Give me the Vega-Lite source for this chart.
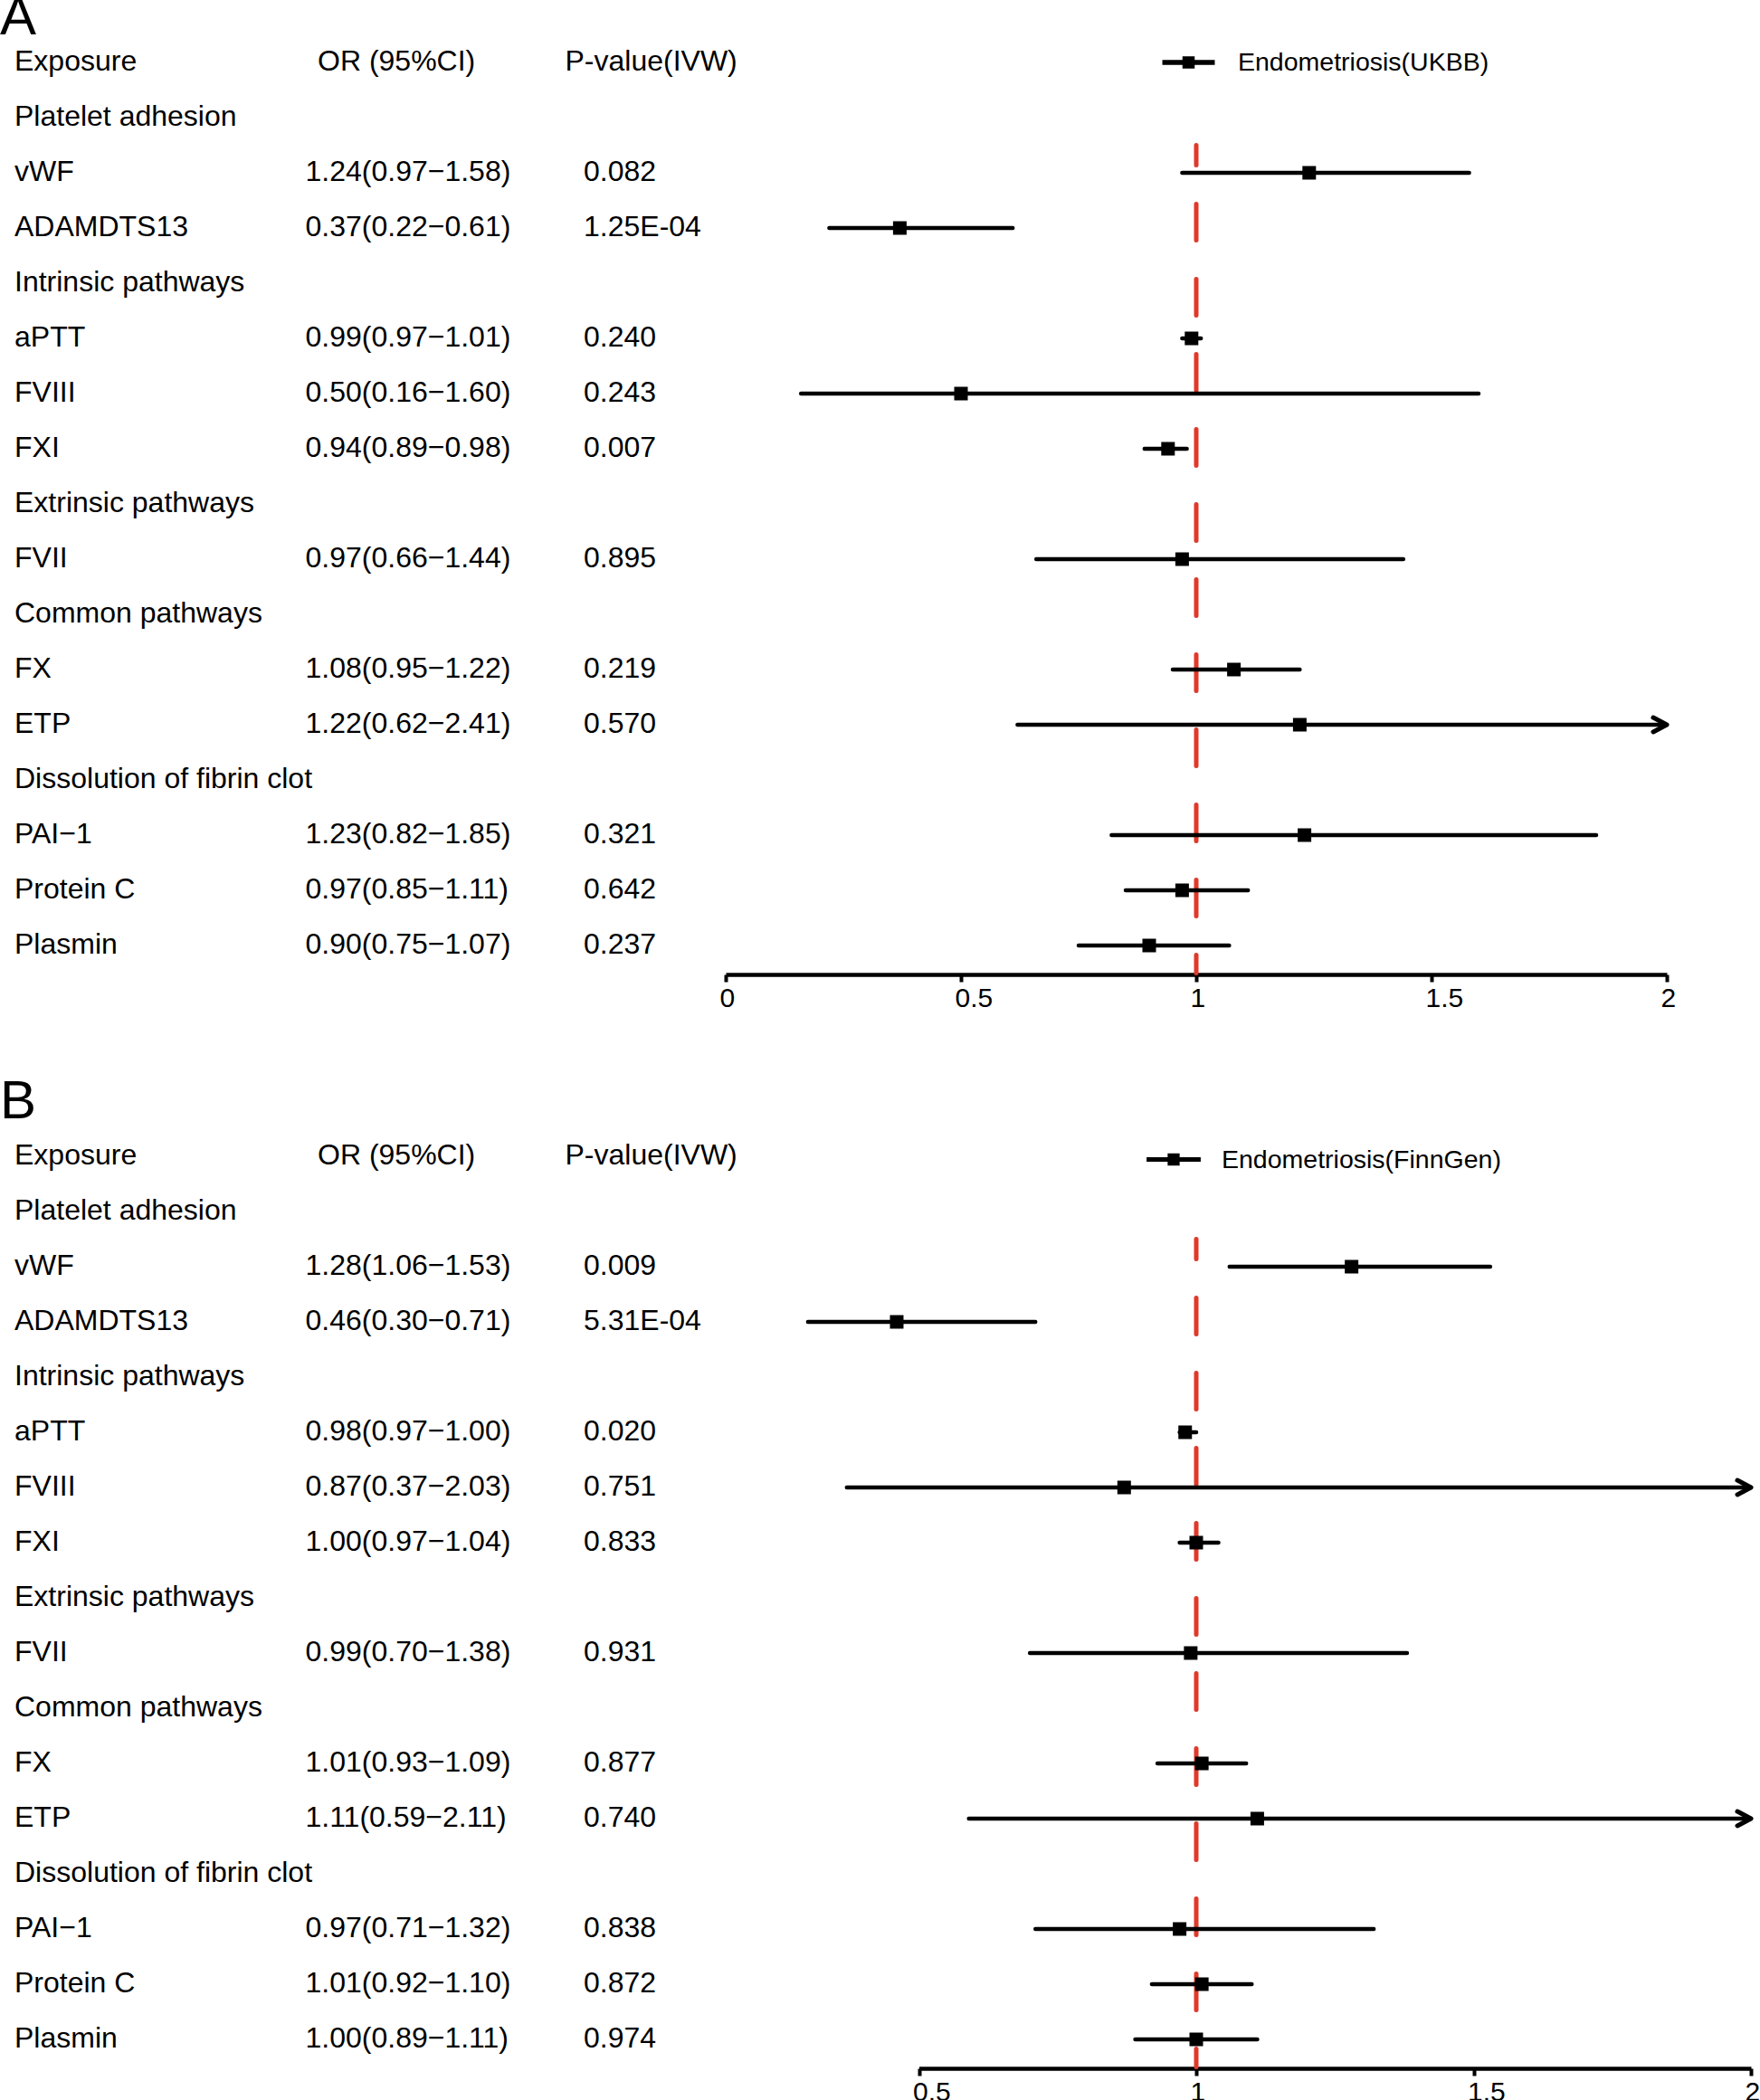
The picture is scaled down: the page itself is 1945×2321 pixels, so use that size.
{
  "$schema": "https://vega.github.io/schema/vega-lite/v6.json",
  "padding": 0,
  "background": "white",
  "config": {"view": {"stroke": null}, "font": "Liberation Sans", "text": {"color": "black"}},
  "datasets": {
    "A": [
      {"label": "Exposure", "ci": "OR (95%CI)", "p": "P-value(IVW)", "kind": "header"},
      {"label": "Platelet adhesion", "kind": "section"},
      {"label": "vWF", "ci": "1.24(0.97−1.58)", "p": "0.082", "kind": "item", "or": 1.24, "lo": 0.97, "hi": 1.58},
      {"label": "ADAMDTS13", "ci": "0.37(0.22−0.61)", "p": "1.25E-04", "kind": "item", "or": 0.37, "lo": 0.22, "hi": 0.61},
      {"label": "Intrinsic pathways", "kind": "section"},
      {"label": "aPTT", "ci": "0.99(0.97−1.01)", "p": "0.240", "kind": "item", "or": 0.99, "lo": 0.97, "hi": 1.01},
      {"label": "FVIII", "ci": "0.50(0.16−1.60)", "p": "0.243", "kind": "item", "or": 0.50, "lo": 0.16, "hi": 1.60},
      {"label": "FXI", "ci": "0.94(0.89−0.98)", "p": "0.007", "kind": "item", "or": 0.94, "lo": 0.89, "hi": 0.98},
      {"label": "Extrinsic pathways", "kind": "section"},
      {"label": "FVII", "ci": "0.97(0.66−1.44)", "p": "0.895", "kind": "item", "or": 0.97, "lo": 0.66, "hi": 1.44},
      {"label": "Common pathways", "kind": "section"},
      {"label": "FX", "ci": "1.08(0.95−1.22)", "p": "0.219", "kind": "item", "or": 1.08, "lo": 0.95, "hi": 1.22},
      {"label": "ETP", "ci": "1.22(0.62−2.41)", "p": "0.570", "kind": "item", "or": 1.22, "lo": 0.62, "hi": 2.41},
      {"label": "Dissolution of fibrin clot", "kind": "section"},
      {"label": "PAI−1", "ci": "1.23(0.82−1.85)", "p": "0.321", "kind": "item", "or": 1.23, "lo": 0.82, "hi": 1.85},
      {"label": "Protein C", "ci": "0.97(0.85−1.11)", "p": "0.642", "kind": "item", "or": 0.97, "lo": 0.85, "hi": 1.11},
      {"label": "Plasmin", "ci": "0.90(0.75−1.07)", "p": "0.237", "kind": "item", "or": 0.90, "lo": 0.75, "hi": 1.07}
    ],
    "B": [
      {"label": "Exposure", "ci": "OR (95%CI)", "p": "P-value(IVW)", "kind": "header"},
      {"label": "Platelet adhesion", "kind": "section"},
      {"label": "vWF", "ci": "1.28(1.06−1.53)", "p": "0.009", "kind": "item", "or": 1.28, "lo": 1.06, "hi": 1.53},
      {"label": "ADAMDTS13", "ci": "0.46(0.30−0.71)", "p": "5.31E-04", "kind": "item", "or": 0.46, "lo": 0.30, "hi": 0.71},
      {"label": "Intrinsic pathways", "kind": "section"},
      {"label": "aPTT", "ci": "0.98(0.97−1.00)", "p": "0.020", "kind": "item", "or": 0.98, "lo": 0.97, "hi": 1.00},
      {"label": "FVIII", "ci": "0.87(0.37−2.03)", "p": "0.751", "kind": "item", "or": 0.87, "lo": 0.37, "hi": 2.03},
      {"label": "FXI", "ci": "1.00(0.97−1.04)", "p": "0.833", "kind": "item", "or": 1.00, "lo": 0.97, "hi": 1.04},
      {"label": "Extrinsic pathways", "kind": "section"},
      {"label": "FVII", "ci": "0.99(0.70−1.38)", "p": "0.931", "kind": "item", "or": 0.99, "lo": 0.70, "hi": 1.38},
      {"label": "Common pathways", "kind": "section"},
      {"label": "FX", "ci": "1.01(0.93−1.09)", "p": "0.877", "kind": "item", "or": 1.01, "lo": 0.93, "hi": 1.09},
      {"label": "ETP", "ci": "1.11(0.59−2.11)", "p": "0.740", "kind": "item", "or": 1.11, "lo": 0.59, "hi": 2.11},
      {"label": "Dissolution of fibrin clot", "kind": "section"},
      {"label": "PAI−1", "ci": "0.97(0.71−1.32)", "p": "0.838", "kind": "item", "or": 0.97, "lo": 0.71, "hi": 1.32},
      {"label": "Protein C", "ci": "1.01(0.92−1.10)", "p": "0.872", "kind": "item", "or": 1.01, "lo": 0.92, "hi": 1.10},
      {"label": "Plasmin", "ci": "1.00(0.89−1.11)", "p": "0.974", "kind": "item", "or": 1.00, "lo": 0.89, "hi": 1.11}
    ]
  },
  "spacing": 132,
  "bounds": "flush",
  "resolve": {"scale": {"x": "independent", "y": "independent", "color": "independent"}, "legend": {"color": "independent"}},
  "vconcat": [
    {
      "width": 1945, "height": 1077,
      "data": {"name": "A"},
      "encoding": {"y": {"field": "label", "type": "nominal", "axis": null, "scale": {"type": "band", "domain": ["Exposure", "Platelet adhesion", "vWF", "ADAMDTS13", "Intrinsic pathways", "aPTT", "FVIII", "FXI", "Extrinsic pathways", "FVII", "Common pathways", "FX", "ETP", "Dissolution of fibrin clot", "PAI−1", "Protein C", "Plasmin"], "range": [38.5, 1075.5], "paddingInner": 0, "paddingOuter": 0}}},
      "layer": [
        {"transform": [{"filter": "datum.kind === 'header'"}], "mark": {"type": "text", "text": "A", "fontSize": 60, "align": "left", "baseline": "alphabetic", "dx": -16, "dy": -31, "clip": true},
         "encoding": {"x": {"datum": "c1", "type": "nominal", "axis": null, "scale": {"type": "point", "domain": ["c1", "c2", "c3"], "range": [16, 645], "padding": 0}}}},
        {"mark": {"type": "text", "align": "left", "baseline": "middle", "fontSize": 32, "dy": -1.5},
         "encoding": {"x": {"datum": "c1", "type": "nominal", "axis": null, "scale": {"type": "point", "domain": ["c1", "c2", "c3"], "range": [16, 645], "padding": 0}}, "text": {"field": "label"}}},
        {"transform": [{"filter": "datum.kind === 'header'"}], "mark": {"type": "text", "align": "left", "baseline": "middle", "fontSize": 32, "dx": 20.5, "dy": -1.5},
         "encoding": {"x": {"datum": "c2", "type": "nominal", "axis": null, "scale": {"type": "point", "domain": ["c1", "c2", "c3"], "range": [16, 645], "padding": 0}}, "text": {"field": "ci"}}},
        {"transform": [{"filter": "datum.kind === 'item'"}], "mark": {"type": "text", "align": "left", "baseline": "middle", "fontSize": 32, "dx": 7, "dy": -1.5},
         "encoding": {"x": {"datum": "c2", "type": "nominal", "axis": null, "scale": {"type": "point", "domain": ["c1", "c2", "c3"], "range": [16, 645], "padding": 0}}, "text": {"field": "ci"}}},
        {"transform": [{"filter": "datum.kind === 'header'"}], "mark": {"type": "text", "align": "left", "baseline": "middle", "fontSize": 32, "dx": -20.5, "dy": -1.5},
         "encoding": {"x": {"datum": "c3", "type": "nominal", "axis": null, "scale": {"type": "point", "domain": ["c1", "c2", "c3"], "range": [16, 645], "padding": 0}}, "text": {"field": "p"}}},
        {"transform": [{"filter": "datum.kind === 'item'"}], "mark": {"type": "text", "align": "left", "baseline": "middle", "fontSize": 32, "dy": -1.5},
         "encoding": {"x": {"datum": "c3", "type": "nominal", "axis": null, "scale": {"type": "point", "domain": ["c1", "c2", "c3"], "range": [16, 645], "padding": 0}}, "text": {"field": "p"}}},
        {"transform": [{"filter": "datum.kind === 'header'"}], "mark": {"type": "rule", "color": "#E0392B", "strokeWidth": 5, "strokeDash": [40, 43], "strokeDashOffset": 18, "strokeCap": "round"},
         "encoding": {"x": {"datum": 1, "type": "quantitative", "axis": null, "scale": {"domain": [0, 2], "range": [802, 1842], "nice": false, "zero": false}},
                      "y": {"datum": "Platelet adhesion", "type": "nominal", "bandPosition": 1},
                      "y2": {"datum": "Plasmin", "bandPosition": 1}}},
        {"transform": [{"filter": "datum.kind === 'item' && datum.hi <= 2"}], "mark": {"type": "rule", "color": "black", "strokeWidth": 4.5, "strokeCap": "round"},
         "encoding": {"x": {"field": "lo", "type": "quantitative", "scale": {"domain": [0, 2], "range": [802, 1842], "nice": false, "zero": false},
                            "axis": {"values": [0, 0.5, 1, 1.5, 2], "format": "~g", "title": null, "grid": false, "domainColor": "black", "domainWidth": 4.5, "tickColor": "black", "tickWidth": 4, "tickSize": 8, "labelFontSize": 30, "labelColor": "black", "labelPadding": 3, "labelAlign": "left", "labelOffset": -7, "labelFlush": false, "labelOverlap": false}},
                      "x2": {"field": "hi"}}},
        {"transform": [{"filter": "datum.kind === 'item' && datum.hi > 2"}], "mark": {"type": "rule", "color": "black", "strokeWidth": 4.5, "strokeCap": "round"},
         "encoding": {"x": {"field": "lo", "type": "quantitative", "axis": null, "scale": {"domain": [0, 2], "range": [802, 1842], "nice": false, "zero": false}},
                      "x2": {"datum": 2}}},
        {"transform": [{"filter": "datum.kind === 'item' && datum.hi > 2"}], "mark": {"type": "point", "shape": "M-1,-0.53L0,0L-1,0.53", "filled": false, "color": "black", "strokeWidth": 5, "size": 900, "opacity": 1, "strokeCap": "round", "strokeJoin": "round"},
         "encoding": {"x": {"datum": 2, "type": "quantitative", "axis": null, "scale": {"domain": [0, 2], "range": [802, 1842], "nice": false, "zero": false}}}},
        {"transform": [{"filter": "datum.kind === 'item'"}], "mark": {"type": "point", "shape": "square", "filled": true, "size": 225, "opacity": 1},
         "encoding": {"x": {"field": "or", "type": "quantitative", "axis": null, "scale": {"domain": [0, 2], "range": [802, 1842], "nice": false, "zero": false}},
                      "color": {"datum": "Endometriosis(UKBB)", "type": "nominal", "scale": {"range": ["black"]},
                                "legend": {"orient": "none", "legendX": 1279, "legendY": 34.5, "title": null, "padding": 0, "symbolType": "M-0.92,0L0.92,0M-0.127,-0.127L0.127,-0.127L0.127,0.127L-0.127,0.127Z", "symbolSize": 3969, "symbolStrokeWidth": 5.5, "symbolStrokeColor": "black", "symbolFillColor": "black", "labelFontSize": 28.5, "labelOffset": 20, "labelColor": "black", "labelLimit": 600,
                                           "encode": {"symbols": {"update": {"stroke": {"value": "black"}, "strokeWidth": {"value": 5.5}, "fill": {"value": "black"}, "shape": {"value": "M-0.92,0L0.92,0M-0.127,-0.127L0.127,-0.127L0.127,0.127L-0.127,0.127Z"}, "strokeCap": {"value": "round"}, "opacity": {"value": 1}}}}}}}}
      ],
      "resolve": {"scale": {"x": "independent"}}
    },
    {
      "width": 1945, "height": 1077,
      "data": {"name": "B"},
      "encoding": {"y": {"field": "label", "type": "nominal", "axis": null, "scale": {"type": "band", "domain": ["Exposure", "Platelet adhesion", "vWF", "ADAMDTS13", "Intrinsic pathways", "aPTT", "FVIII", "FXI", "Extrinsic pathways", "FVII", "Common pathways", "FX", "ETP", "Dissolution of fibrin clot", "PAI−1", "Protein C", "Plasmin"], "range": [38.5, 1075.5], "paddingInner": 0, "paddingOuter": 0}}},
      "layer": [
        {"transform": [{"filter": "datum.kind === 'header'"}], "mark": {"type": "text", "text": "B", "fontSize": 60, "align": "left", "baseline": "alphabetic", "dx": -16, "dy": -42},
         "encoding": {"x": {"datum": "c1", "type": "nominal", "axis": null, "scale": {"type": "point", "domain": ["c1", "c2", "c3"], "range": [16, 645], "padding": 0}}}},
        {"mark": {"type": "text", "align": "left", "baseline": "middle", "fontSize": 32, "dy": -1.5},
         "encoding": {"x": {"datum": "c1", "type": "nominal", "axis": null, "scale": {"type": "point", "domain": ["c1", "c2", "c3"], "range": [16, 645], "padding": 0}}, "text": {"field": "label"}}},
        {"transform": [{"filter": "datum.kind === 'header'"}], "mark": {"type": "text", "align": "left", "baseline": "middle", "fontSize": 32, "dx": 20.5, "dy": -1.5},
         "encoding": {"x": {"datum": "c2", "type": "nominal", "axis": null, "scale": {"type": "point", "domain": ["c1", "c2", "c3"], "range": [16, 645], "padding": 0}}, "text": {"field": "ci"}}},
        {"transform": [{"filter": "datum.kind === 'item'"}], "mark": {"type": "text", "align": "left", "baseline": "middle", "fontSize": 32, "dx": 7, "dy": -1.5},
         "encoding": {"x": {"datum": "c2", "type": "nominal", "axis": null, "scale": {"type": "point", "domain": ["c1", "c2", "c3"], "range": [16, 645], "padding": 0}}, "text": {"field": "ci"}}},
        {"transform": [{"filter": "datum.kind === 'header'"}], "mark": {"type": "text", "align": "left", "baseline": "middle", "fontSize": 32, "dx": -20.5, "dy": -1.5},
         "encoding": {"x": {"datum": "c3", "type": "nominal", "axis": null, "scale": {"type": "point", "domain": ["c1", "c2", "c3"], "range": [16, 645], "padding": 0}}, "text": {"field": "p"}}},
        {"transform": [{"filter": "datum.kind === 'item'"}], "mark": {"type": "text", "align": "left", "baseline": "middle", "fontSize": 32, "dy": -1.5},
         "encoding": {"x": {"datum": "c3", "type": "nominal", "axis": null, "scale": {"type": "point", "domain": ["c1", "c2", "c3"], "range": [16, 645], "padding": 0}}, "text": {"field": "p"}}},
        {"transform": [{"filter": "datum.kind === 'header'"}], "mark": {"type": "rule", "color": "#E0392B", "strokeWidth": 5, "strokeDash": [40, 43], "strokeDashOffset": 18, "strokeCap": "round"},
         "encoding": {"x": {"datum": 1, "type": "quantitative", "axis": null, "scale": {"domain": [0.5, 2], "range": [1015.5, 1935], "nice": false, "zero": false}},
                      "y": {"datum": "Platelet adhesion", "type": "nominal", "bandPosition": 1},
                      "y2": {"datum": "Plasmin", "bandPosition": 1}}},
        {"transform": [{"filter": "datum.kind === 'item' && datum.hi <= 2"}], "mark": {"type": "rule", "color": "black", "strokeWidth": 4.5, "strokeCap": "round"},
         "encoding": {"x": {"field": "lo", "type": "quantitative", "scale": {"domain": [0.5, 2], "range": [1015.5, 1935], "nice": false, "zero": false},
                            "axis": {"values": [0.5, 1, 1.5, 2], "format": "~g", "title": null, "grid": false, "domainColor": "black", "domainWidth": 4.5, "tickColor": "black", "tickWidth": 4, "tickSize": 8, "labelFontSize": 30, "labelColor": "black", "labelPadding": 3, "labelAlign": "left", "labelOffset": -7, "labelFlush": false, "labelOverlap": false}},
                      "x2": {"field": "hi"}}},
        {"transform": [{"filter": "datum.kind === 'item' && datum.hi > 2"}], "mark": {"type": "rule", "color": "black", "strokeWidth": 4.5, "strokeCap": "round"},
         "encoding": {"x": {"field": "lo", "type": "quantitative", "axis": null, "scale": {"domain": [0.5, 2], "range": [1015.5, 1935], "nice": false, "zero": false}},
                      "x2": {"datum": 2}}},
        {"transform": [{"filter": "datum.kind === 'item' && datum.hi > 2"}], "mark": {"type": "point", "shape": "M-1,-0.53L0,0L-1,0.53", "filled": false, "color": "black", "strokeWidth": 5, "size": 900, "opacity": 1, "strokeCap": "round", "strokeJoin": "round"},
         "encoding": {"x": {"datum": 2, "type": "quantitative", "axis": null, "scale": {"domain": [0.5, 2], "range": [1015.5, 1935], "nice": false, "zero": false}}}},
        {"transform": [{"filter": "datum.kind === 'item'"}], "mark": {"type": "point", "shape": "square", "filled": true, "size": 225, "opacity": 1},
         "encoding": {"x": {"field": "or", "type": "quantitative", "axis": null, "scale": {"domain": [0.5, 2], "range": [1015.5, 1935], "nice": false, "zero": false}},
                      "color": {"datum": "Endometriosis(FinnGen)", "type": "nominal", "scale": {"range": ["black"]},
                                "legend": {"orient": "none", "legendX": 1262, "legendY": 37.5, "title": null, "padding": 0, "symbolType": "M-0.92,0L0.92,0M-0.127,-0.127L0.127,-0.127L0.127,0.127L-0.127,0.127Z", "symbolSize": 4225, "symbolStrokeWidth": 5, "symbolStrokeColor": "black", "symbolFillColor": "black", "labelFontSize": 28.5, "labelOffset": 18, "labelColor": "black", "labelLimit": 600,
                                           "encode": {"symbols": {"update": {"stroke": {"value": "black"}, "strokeWidth": {"value": 5}, "fill": {"value": "black"}, "shape": {"value": "M-0.92,0L0.92,0M-0.127,-0.127L0.127,-0.127L0.127,0.127L-0.127,0.127Z"}, "strokeCap": {"value": "round"}, "opacity": {"value": 1}}}}}}}}
      ],
      "resolve": {"scale": {"x": "independent"}}
    }
  ]
}
